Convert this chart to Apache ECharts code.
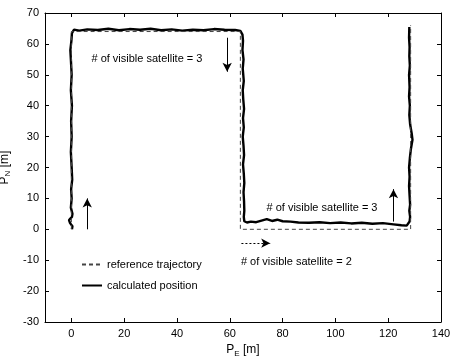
<!DOCTYPE html>
<html>
<head>
<meta charset="utf-8">
<script src="https://cdn.jsdelivr.net/npm/echarts@6/dist/echarts.min.js"></script>
<style>html,body{margin:0;padding:0;background:#fff;}#c{width:450px;height:358px;}</style>
</head>
<body>
<div id="c"></div>
<script>
// ---- data ----
const xTicks = [0, 20, 40, 60, 80, 100, 120, 140];
const yTicks = [-30, -20, -10, 0, 10, 20, 30, 40, 50, 60, 70];

const refE = [0, 0, 64, 64, 128.5, 128.5];
const refN = [0, 64, 64, 0, 0, 66];

const calcE = [0.2, 0.4, -0.5, -0.9, 0.2, 0.4, -0.2, 0.1, -0.1, 0.3, 0.1, -0.2, 0.1, -0.1, 0.2, -0.2, 0.1, -0.2, -0.4, 0.0, 0.2,
  1, 3, 6, 10, 14, 18, 22, 26, 30, 34, 38, 42, 46, 50, 54, 58, 62, 64,
  64.8, 65, 64.8, 65.2, 64.9, 65.3, 64.9, 65.1, 65.4, 65, 65.3, 64.9, 65.2, 65.4, 65, 65.3, 65.5, 65.2, 65.4, 65.5, 65.3, 65.5,
  66.5, 68, 70, 72, 74, 76, 78, 80, 83, 86, 90, 94, 98, 102, 106, 110, 114, 118, 122, 125, 127,
  128.1, 128.3, 128, 128.3, 128.1, 127.9, 128.1, 127.9, 128.2, 128.6, 129.2, 128.9, 128.3, 128, 128.2, 127.9, 128.1, 127.9, 128.2, 128, 128.1, 127.9, 128.0];
const calcN = [0, 1, 2, 3, 4, 5, 7, 10, 13, 16, 20, 25, 30, 35, 40, 45, 50, 55, 58, 61, 63.5,
  64.6, 64.3, 64.7, 64.5, 64.9, 64.4, 64.8, 64.6, 64.9, 64.4, 64.7, 64.3, 64.6, 64.4, 64.8, 64.6, 64.5, 64.2,
  63, 61, 58, 55, 52, 48, 45, 42, 39, 36, 33, 30, 27, 24, 21, 18, 15, 12, 9, 6, 4, 2.6,
  2.2, 2.5, 2.3, 2.8, 3.3, 2.7, 3.1, 2.6, 2.5, 2.2, 2.1, 2.3, 2.0, 2.2, 1.9, 2.1, 1.8, 2.0, 1.6, 1.3, 1.2,
  2.5, 4, 6, 8, 11, 14, 17, 20, 23, 26, 29, 31, 34, 37, 40, 43, 46, 50, 53, 56, 59, 62, 65.5];

// annotation arrows: start [E,N] -> end [E,N]
const arrowFrom = [[6, 0], [59, 62], [122, 2.5], [64.4, -4.5]];
const arrowTo = [[6, 10], [59, 51], [122, 13], [75.3, -4.5]];
const arrowDotted = [false, false, false, true];

// text annotations (left edge, vertical middle)
const noteE = [7.6, 73.9, 64.2];
const noteN = [55.1, 6.8, -10.5];
const noteText = ['# of visible satellite = 3', '# of visible satellite = 3', '# of visible satellite = 2'];

const seriesNames = ['reference trajectory', 'calculated position'];

// ---- chart ----
const chart = echarts.init(document.getElementById('c'), null, {renderer: 'canvas'});
const font = 'Liberation Sans, Arial, sans-serif';
const zip = (a, b) => a.map((v, i) => [v, b[i]]);

const baseAxis = {
  type: 'value',
  axisLine: {show: true, onZero: false, lineStyle: {color: '#000', width: 1}},
  axisTick: {show: true, inside: true, length: 4, lineStyle: {color: '#000'}},
  splitLine: {show: false},
  axisLabel: {color: '#000', fontSize: 11, fontFamily: font, margin: 6},
};

const nameRich = {
  p: {fontSize: 12, fontFamily: font, color: '#000', lineHeight: 14, padding: [0, 0, 2, 0]},
  s: {fontSize: 8, fontFamily: font, color: '#000', lineHeight: 10, verticalAlign: 'bottom'}
};

const option = {
  animation: false,
  backgroundColor: '#fff',
  grid: {left: 45, right: 9, top: 13, bottom: 36, containLabel: false, outerBoundsMode: 'none'},
  legend: {
    orient: 'vertical', left: 76, top: 254, itemWidth: 20, itemHeight: 10, itemGap: 10,
    data: seriesNames,
    itemStyle: {opacity: 0},
    textStyle: {color: '#000', fontSize: 11, fontFamily: font}
  },
  xAxis: [
    Object.assign({}, baseAxis, {
      min: -10, max: 140, position: 'bottom',
      axisTick: Object.assign({}, baseAxis.axisTick, {customValues: xTicks}),
      axisLabel: Object.assign({}, baseAxis.axisLabel, {customValues: xTicks}),
      name: '{p|P}{s|E}{p| [m]}', nameLocation: 'middle', nameGap: 20,
      nameTextStyle: {rich: nameRich}
    }),
    Object.assign({}, baseAxis, {
      min: -10, max: 140, position: 'top',
      axisTick: Object.assign({}, baseAxis.axisTick, {customValues: xTicks}),
      axisLabel: {show: false}
    })
  ],
  yAxis: [
    Object.assign({}, baseAxis, {
      min: -30, max: 70, interval: 10, position: 'left',
      name: '{p|P}{s|N}{p| [m]}', nameLocation: 'middle', nameGap: 24,
      nameTextStyle: {rich: nameRich}
    }),
    Object.assign({}, baseAxis, {
      min: -30, max: 70, interval: 10, position: 'right',
      axisLabel: {show: false}
    })
  ],
  series: [
    {
      name: seriesNames[0], type: 'line', data: zip(refE, refN), symbol: 'none',
      lineStyle: {color: '#444', width: 1, type: [4, 3]}, itemStyle: {color: '#444'},
      z: 3,
      markLine: {
        silent: true, animation: false,
        symbol: ['none', 'arrow'], symbolSize: [7, 9],
        label: {show: false},
        lineStyle: {color: '#000', width: 1, type: 'solid'},
        data: arrowFrom.map((f, i) => [
          {coord: f, lineStyle: arrowDotted[i] ? {type: [2, 2], color: '#000', width: 1} : {type: 'solid', color: '#000', width: 1}},
          {coord: arrowTo[i]}
        ])
      }
    },
    {
      name: seriesNames[1], type: 'line', data: zip(calcE, calcN), symbol: 'none',
      lineStyle: {color: '#000', width: 2.4}, itemStyle: {color: '#000'}, z: 2
    },
    {
      type: 'scatter', data: noteE.map((e, i) => ({value: [e, noteN[i]], name: noteText[i]})),
      symbolSize: 0, silent: true, itemStyle: {opacity: 1, color: '#000'},
      label: {show: true, position: 'right', distance: 0, formatter: p => p.name,
        color: '#000', opacity: 1, fontSize: 11, fontFamily: font, textBorderWidth: 0}
    }
  ]
};
chart.setOption(option);
</script>
</body>
</html>
